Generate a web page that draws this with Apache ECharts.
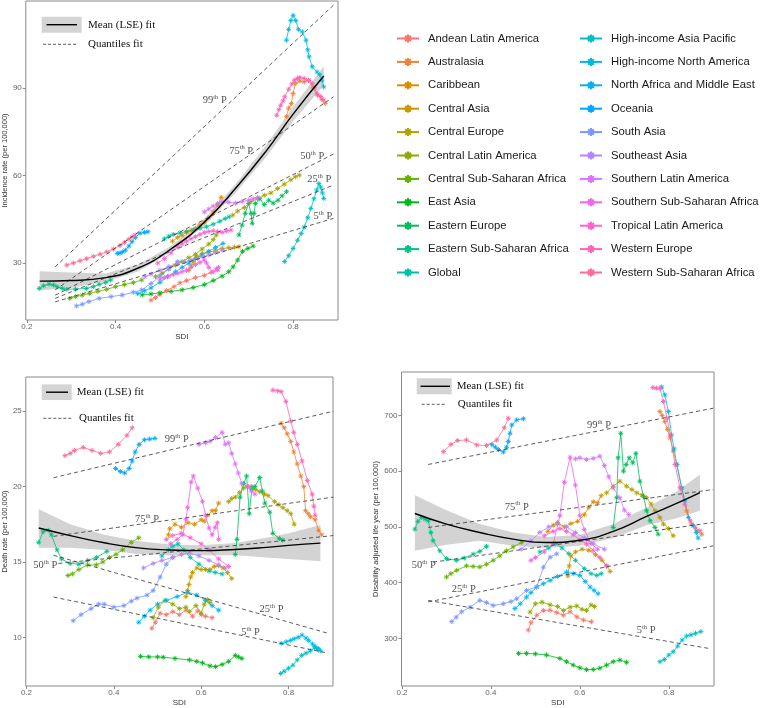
<!DOCTYPE html>
<html><head><meta charset="utf-8">
<script src="https://cdn.jsdelivr.net/npm/echarts@6/dist/echarts.min.js"></script>
<style>html,body{margin:0;padding:0;background:#fff}#c{width:762px;height:708px}</style>
</head><body><div id="c"></div>
<script>
const regions = ['Andean Latin America','Australasia','Caribbean','Central Asia','Central Europe','Central Latin America','Central Sub-Saharan Africa','East Asia','Eastern Europe','Eastern Sub-Saharan Africa','Global','High-income Asia Pacific','High-income North America','North Africa and Middle East','Oceania','South Asia','Southeast Asia','Southern Latin America','Southern Sub-Saharan Africa','Tropical Latin America','Western Europe','Western Sub-Saharan Africa'];

// Incidence rate (per 100,000) vs SDI, one list of [SDI, value] per region
const incidence = [
 [[0.48,17.3],[0.49,18.2],[0.5,19.2],[0.515,20.6],[0.532,21.9],[0.545,23.2],[0.56,24],[0.58,25],[0.6,25.8],[0.615,26.8],[0.63,27.6]],
 [[0.785,80.1],[0.79,83],[0.796,84.6],[0.8,88],[0.805,91.5],[0.815,92.3],[0.825,92],[0.835,92.6],[0.845,90],[0.855,87.5],[0.865,86],[0.872,84.6]],
 [[0.528,37.5],[0.54,38.8],[0.55,39.5],[0.56,40.6],[0.57,41.2],[0.58,41.8],[0.59,43],[0.6,44],[0.61,45.5],[0.62,47.5],[0.63,50],[0.638,52.5]],
 [[0.565,27.5],[0.57,29],[0.575,30.5],[0.583,32.2],[0.595,33.3],[0.61,33.8],[0.625,34.2],[0.64,35],[0.655,35.2],[0.668,35.4],[0.678,35.6]],
 [[0.664,46.4],[0.675,47.8],[0.69,49],[0.705,51],[0.72,52],[0.735,53.2],[0.75,54],[0.765,55.5],[0.78,57],[0.795,58.5],[0.805,59.5],[0.814,60.1]],
 [[0.49,25.3],[0.505,26.5],[0.52,28],[0.535,29.3],[0.55,30.5],[0.565,31.8],[0.58,33],[0.595,34.8],[0.61,36.5],[0.62,38],[0.627,39.6]],
 [[0.297,17.9],[0.31,18.5],[0.325,19],[0.341,19.6],[0.36,20.3],[0.38,21],[0.4,21.9],[0.42,22.6],[0.44,23.3],[0.459,24.2]],
 [[0.46,19.1],[0.48,19.4],[0.5,19.8],[0.525,20.3],[0.55,20.8],[0.575,21.6],[0.6,22.6],[0.62,24],[0.64,25.5],[0.655,27],[0.665,28.7],[0.675,31],[0.686,34],[0.698,35],[0.71,35.8]],
 [[0.678,39.6],[0.685,43],[0.692,47],[0.7,50.4],[0.705,47],[0.708,43.6],[0.712,47],[0.715,50.4],[0.725,52],[0.735,50],[0.745,51.5],[0.755,50.5],[0.766,51.5],[0.775,53],[0.785,54.4]],
 [[0.228,21.3],[0.238,22.2],[0.25,22.8],[0.26,22.5],[0.268,21.9],[0.28,21.3],[0.29,21],[0.31,21.1],[0.334,21.3],[0.35,21.9],[0.363,22.7],[0.378,23.4],[0.389,24.2]],
 [[0.51,38.3],[0.52,39.2],[0.53,39.8],[0.545,40.3],[0.56,40.8],[0.575,41.3],[0.59,41.9],[0.605,42.4],[0.62,43.3],[0.635,44.3],[0.647,45.2],[0.656,45.8]],
 [[0.781,30.5],[0.79,32.5],[0.8,35],[0.81,37.8],[0.818,40.1],[0.825,42.3],[0.833,45.5],[0.84,48.7],[0.847,52],[0.853,55],[0.858,57.2],[0.862,56],[0.866,54],[0.869,52.1]],
 [[0.785,106.3],[0.79,110],[0.795,113],[0.8,114.8],[0.806,113],[0.812,110],[0.821,109.1],[0.829,106.3],[0.833,103],[0.836,100.6],[0.843,97.2],[0.854,95.4],[0.86,94.5],[0.865,92.6],[0.869,90.3]],
 [[0.45,19.5],[0.465,20.5],[0.48,21.5],[0.5,23.4],[0.517,25.3],[0.535,27],[0.55,28.5],[0.565,30],[0.58,31.5],[0.595,32.7],[0.61,34],[0.625,35.3],[0.642,36.7]],
 [[0.404,33.3],[0.41,33.4],[0.416,33.8],[0.422,34.4],[0.43,35.8],[0.437,37.3],[0.445,38.8],[0.455,40.2],[0.465,40.5],[0.473,40.7]],
 [[0.312,15.3],[0.325,15.9],[0.34,16.8],[0.363,17.9],[0.39,18.5],[0.415,19.05],[0.44,20],[0.459,20.8],[0.48,23],[0.5,25.5],[0.52,28],[0.54,30.5]],
 [[0.466,25.3],[0.48,26.2],[0.5,27.5],[0.52,28.8],[0.539,29.9],[0.555,30.5],[0.57,31],[0.585,31.6],[0.598,32.2],[0.61,32.8],[0.625,33.6],[0.642,34.4]],
 [[0.6,47.5],[0.61,48.5],[0.62,49.5],[0.63,50.3],[0.64,51],[0.655,50.8],[0.67,50.5],[0.685,51],[0.7,51.5],[0.71,52],[0.72,52.5]],
 [[0.5,24.5],[0.51,25],[0.52,25.5],[0.53,26],[0.54,26.5],[0.55,27],[0.56,27.5],[0.57,28.5],[0.58,29.5],[0.59,30.2],[0.6,31],[0.605,30],[0.61,28.5],[0.62,27],[0.627,28],[0.632,28.5]],
 [[0.495,30],[0.51,31.5],[0.525,33.5],[0.54,35.5],[0.55,36.5],[0.56,37.5],[0.57,38.3],[0.58,39],[0.59,39.8],[0.6,40.5],[0.61,40.8],[0.62,41],[0.63,40.7],[0.64,40.5],[0.65,41],[0.66,41.3]],
 [[0.763,80.6],[0.768,82.5],[0.772,84],[0.777,85.5],[0.781,86.9],[0.79,89.5],[0.797,91.3],[0.803,92.6],[0.81,93.2],[0.815,93.5],[0.825,93.2],[0.835,92.5],[0.843,91.5],[0.848,90],[0.854,88],[0.862,87],[0.869,85.8]],
 [[0.29,29.3],[0.305,30],[0.32,30.8],[0.335,31.5],[0.35,32.3],[0.365,33],[0.38,33.8],[0.395,34.8],[0.41,36],[0.42,37],[0.43,38.2],[0.437,38.9],[0.444,39.6]]
];

// Death rate (per 100,000) vs SDI
const deathRate = [
 [[0.487,10.6],[0.495,11.0],[0.506,11.6],[0.52,11.5],[0.535,11.7],[0.55,11.5],[0.565,11.8],[0.58,11.4],[0.592,11.75],[0.6,11.5],[0.61,11.4],[0.625,11.3]],
 [[0.783,24.2],[0.79,23.9],[0.797,23.5],[0.805,23.0],[0.812,22.3],[0.82,21.5],[0.828,20.7],[0.835,20.0],[0.839,18.4],[0.845,18.2],[0.85,18.0],[0.861,17.8],[0.869,17.1],[0.876,16.8]],
 [[0.525,16.8],[0.528,17.2],[0.54,17.5],[0.555,17.3],[0.57,17.6],[0.585,17.5],[0.6,17.8],[0.607,17.7],[0.615,18.1],[0.625,18.4],[0.633,18.4],[0.64,18.9]],
 [[0.565,12.7],[0.569,13.1],[0.572,13.5],[0.576,14.0],[0.58,14.3],[0.59,14.6],[0.6,14.5],[0.61,14.5],[0.62,14.5],[0.63,14.7],[0.64,14.75],[0.65,14.6],[0.66,14.3],[0.67,13.9]],
 [[0.663,19.0],[0.67,19.2],[0.678,19.3],[0.688,19.6],[0.697,19.9],[0.705,20.0],[0.715,20.0],[0.725,19.8],[0.734,19.65],[0.745,19.5],[0.753,19.4],[0.768,19.0],[0.778,18.8],[0.787,18.6],[0.797,18.4],[0.805,18.2],[0.813,17.5]],
 [[0.49,11.3],[0.502,12.0],[0.517,12.45],[0.535,12.2],[0.55,11.9],[0.565,12.0],[0.573,11.7],[0.588,12.1],[0.6,11.6],[0.607,12.2],[0.614,12.5],[0.62,12.3]],
 [[0.295,14.1],[0.305,14.2],[0.32,14.5],[0.34,14.8],[0.36,14.8],[0.375,15.0],[0.39,15.3],[0.405,15.5],[0.42,15.8],[0.44,16.3],[0.457,16.6]],
 [[0.461,8.74],[0.48,8.7],[0.5,8.7],[0.513,8.68],[0.54,8.6],[0.573,8.5],[0.59,8.4],[0.603,8.3],[0.62,8.1],[0.633,8.05],[0.648,8.2],[0.663,8.4],[0.678,8.8],[0.685,8.7],[0.693,8.6]],
 [[0.678,15.5],[0.682,16.5],[0.689,19.3],[0.697,20.2],[0.704,20.7],[0.71,18.2],[0.716,19.8],[0.723,20.0],[0.734,20.6],[0.74,19.7],[0.746,18.9],[0.757,18.3],[0.764,16.9],[0.779,16.55],[0.787,16.45]],
 [[0.228,16.3],[0.238,17.0],[0.25,17.1],[0.257,16.8],[0.27,15.8],[0.28,15.2],[0.3,14.9],[0.32,14.85],[0.34,15.1],[0.36,15.3],[0.384,15.7]],
 [[0.51,15.4],[0.525,15.8],[0.535,16.05],[0.547,16.2],[0.56,15.8],[0.575,15.3],[0.595,14.85],[0.618,14.4],[0.632,14.3],[0.648,14.2]],
 [[0.782,7.6],[0.79,7.75],[0.8,7.95],[0.81,8.15],[0.82,8.5],[0.83,8.8],[0.84,8.95],[0.85,9.1],[0.86,9.3],[0.868,9.2]],
 [[0.783,9.6],[0.795,9.7],[0.805,9.8],[0.813,9.9],[0.822,10.0],[0.831,10.15],[0.84,9.95],[0.846,9.8],[0.855,9.55],[0.861,9.4],[0.868,9.25],[0.873,9.1]],
 [[0.457,11.0],[0.47,11.4],[0.483,11.8],[0.5,12.2],[0.52,12.45],[0.545,12.7],[0.569,13.0],[0.59,12.8],[0.61,12.45],[0.625,12.1],[0.64,11.8]],
 [[0.404,21.2],[0.415,21.0],[0.425,20.9],[0.435,21.2],[0.442,21.7],[0.449,22.3],[0.458,22.8],[0.47,23.1],[0.482,23.15],[0.494,23.2]],
 [[0.307,11.1],[0.325,11.5],[0.348,11.9],[0.365,12.2],[0.378,12.2],[0.4,12.0],[0.423,12.1],[0.44,12.4],[0.453,12.6],[0.476,12.8],[0.49,13.1],[0.506,14.0],[0.52,14.85],[0.535,15.3]],
 [[0.468,14.6],[0.49,14.9],[0.51,15.1],[0.535,15.3],[0.555,15.5],[0.573,15.6],[0.595,15.4],[0.618,15.1],[0.64,14.8],[0.655,14.6]],
 [[0.595,22.8],[0.61,22.9],[0.62,23.0],[0.633,23.25],[0.648,23.6],[0.655,22.8],[0.663,22.9],[0.67,22.2],[0.678,21.5],[0.685,20.9],[0.693,20.2],[0.708,20.0],[0.715,19.7],[0.723,19.5]],
 [[0.53,16.2],[0.545,16.5],[0.558,16.8],[0.565,17.8],[0.569,18.6],[0.577,20.3],[0.582,20.7],[0.592,19.9],[0.603,19.0],[0.61,18.1],[0.618,17.25],[0.625,16.8],[0.632,17.3],[0.637,17.6],[0.64,16.5]],
 [[0.52,16.5],[0.535,16.75],[0.554,16.9],[0.575,16.6],[0.6,16.2],[0.618,15.8],[0.64,15.2],[0.663,14.7]],
 [[0.764,26.4],[0.775,26.35],[0.783,26.3],[0.794,25.65],[0.805,24.35],[0.812,23.6],[0.82,22.8],[0.831,21.7],[0.843,20.4],[0.854,19.5],[0.858,18.7],[0.861,18.1]],
 [[0.288,22.05],[0.3,22.2],[0.31,22.4],[0.33,22.6],[0.35,22.4],[0.37,22.2],[0.39,22.3],[0.41,22.8],[0.43,23.4],[0.442,23.9]]
];

// Disability adjusted life year (per 100,000) vs SDI
const daly = [
 [[0.484,314.8],[0.49,328],[0.503,341.5],[0.518,350],[0.533,350.5],[0.548,346],[0.563,341.5],[0.578,347.5],[0.593,338.6],[0.608,332.7],[0.626,329.7]],
 [[0.78,707],[0.785,700],[0.791,689],[0.797,675],[0.803,659.5],[0.81,636],[0.818,612],[0.829,570],[0.84,528.8],[0.851,505],[0.863,493],[0.874,487]],
 [[0.528,492],[0.54,503],[0.55,508],[0.565,500],[0.58,506],[0.595,510],[0.61,522],[0.62,535],[0.63,545],[0.64,543],[0.648,556]],
 [[0.573,412],[0.576,430],[0.58,448],[0.59,455],[0.605,460],[0.62,458],[0.635,450],[0.65,440],[0.66,430],[0.668,420]],
 [[0.66,561],[0.675,573],[0.69,582],[0.705,573],[0.717,567],[0.728,561],[0.74,557],[0.75,552.5],[0.76,541],[0.769,528.8],[0.78,517],[0.788,505],[0.799,497],[0.81,484]],
 [[0.488,347],[0.5,362],[0.515,365],[0.533,360],[0.55,357],[0.563,350],[0.578,356],[0.593,358],[0.605,352],[0.615,350],[0.625,360],[0.633,357]],
 [[0.3,410],[0.31,416],[0.323,422],[0.345,430],[0.36,429],[0.375,428],[0.39,433],[0.405,440],[0.42,448],[0.435,457],[0.45,464],[0.469,472]],
 [[0.462,273],[0.48,273],[0.5,272],[0.525,270],[0.555,264],[0.57,258],[0.585,252],[0.6,247],[0.615,243.6],[0.63,244],[0.645,246.5],[0.66,252],[0.675,258],[0.69,261],[0.705,257]],
 [[0.675,499],[0.683,552.5],[0.686,624],[0.692,668],[0.698,600],[0.704,612],[0.711,624],[0.719,615],[0.726,632],[0.735,582],[0.743,555],[0.75,529],[0.758,511],[0.769,499],[0.776,487]],
 [[0.229,496],[0.236,510],[0.244,517],[0.252,514],[0.259,511],[0.265,490],[0.27,475],[0.285,457],[0.3,443],[0.323,440],[0.34,444],[0.36,451],[0.375,456],[0.39,465]],
 [[0.51,455],[0.53,462],[0.545,470],[0.56,462],[0.575,452],[0.59,440],[0.61,425],[0.625,416],[0.638,413],[0.648,416]],
 [[0.78,258],[0.79,262],[0.8,270],[0.81,276],[0.82,286],[0.83,297],[0.84,304],[0.85,306],[0.86,309],[0.872,312]],
 [[0.784,751],[0.791,737],[0.799,707],[0.806,665],[0.812,640],[0.818,612],[0.829,570],[0.836,547],[0.844,517],[0.855,502],[0.862,490],[0.866,480]],
 [[0.454,353.5],[0.466,362],[0.48,374],[0.49,382],[0.503,392],[0.518,398],[0.533,404],[0.55,411],[0.57,418.8],[0.585,416],[0.6,413],[0.612,402],[0.623,392],[0.632,386],[0.641,380]],
 [[0.402,647.6],[0.41,643],[0.417,638.7],[0.428,634.5],[0.435,643],[0.439,653.5],[0.443,668],[0.447,683],[0.458,692],[0.473,694]],
 [[0.312,330],[0.322,338],[0.334,347.5],[0.353,356],[0.375,368],[0.39,364],[0.405,359],[0.428,362],[0.445,366],[0.458,371],[0.48,386],[0.503,392],[0.518,427.7],[0.533,445.6],[0.548,451.5]],
 [[0.468,460],[0.49,475],[0.51,490],[0.53,500],[0.55,505],[0.57,500],[0.59,490],[0.61,480],[0.63,470],[0.655,460]],
 [[0.59,622],[0.6,624],[0.615,621],[0.63,623],[0.645,627],[0.655,610],[0.665,590],[0.675,570],[0.69,552],[0.7,530],[0.71,522]],
 [[0.49,440],[0.5,445],[0.52,455],[0.54,470],[0.555,520],[0.565,580],[0.578,625],[0.59,575],[0.6,520],[0.61,495],[0.625,470],[0.64,460]],
 [[0.52,484],[0.54,492],[0.555,497],[0.57,492],[0.585,486],[0.6,477],[0.615,469],[0.63,458],[0.645,445],[0.66,430]],
 [[0.764,750],[0.772,749],[0.78,748.6],[0.788,725],[0.796,695],[0.803,665],[0.814,612],[0.825,570],[0.836,540.6],[0.848,511],[0.859,499],[0.87,493]],
 [[0.293,635],[0.31,648],[0.325,655],[0.345,656],[0.368,647],[0.39,646],[0.413,656],[0.43,678],[0.439,695]]
];

// Mean (LSE) fits and their confidence bands
const incFit = [[0.229,23.8],[0.3,24.0],[0.378,25.0],[0.451,28.3],[0.525,34.8],[0.6,44.0],[0.67,55.5],[0.74,68.5],[0.8,81],[0.869,94]];
const incBandUp = [[0.229,27.2],[0.3,26.8],[0.378,26.4],[0.451,29.5],[0.525,35.8],[0.6,45.2],[0.67,57],[0.74,70.5],[0.8,83.5],[0.869,97.3]];
const incBandLo = [[0.229,20.6],[0.3,21.5],[0.378,23.6],[0.451,27.1],[0.525,33.8],[0.6,42.8],[0.67,54],[0.74,66.5],[0.8,78.5],[0.869,90.8]];
const deathFit = [[0.228,17.25],[0.3,16.75],[0.378,16.27],[0.45,15.95],[0.528,15.79],[0.6,15.75],[0.678,15.83],[0.75,15.97],[0.8,16.1],[0.873,16.25]];
const deathBandUp = [[0.228,18.5],[0.3,17.5],[0.378,16.8],[0.45,16.4],[0.528,16.15],[0.6,16.1],[0.678,16.25],[0.75,16.6],[0.8,16.9],[0.873,17.45]];
const deathBandLo = [[0.228,15.95],[0.3,15.95],[0.378,15.8],[0.45,15.55],[0.528,15.45],[0.6,15.45],[0.678,15.45],[0.75,15.3],[0.8,15.2],[0.873,15.05]];
const dalyFit = [[0.229,524],[0.3,505],[0.375,490],[0.45,478],[0.525,472],[0.6,476],[0.675,492],[0.75,518.7],[0.82,543],[0.87,561.5]];
const dalyBandUp = [[0.229,557],[0.3,530],[0.375,505],[0.45,490],[0.525,482],[0.6,486],[0.675,505],[0.75,535],[0.82,565],[0.87,594]];
const dalyBandLo = [[0.229,457],[0.3,468],[0.375,475],[0.45,466],[0.525,462],[0.6,466],[0.675,480],[0.75,503],[0.82,516],[0.87,529]];

// Quantile regression lines (99th, 75th, 50th, 25th, 5th), end points
const quantileNames = ['99','75','50','25','5'];
const incQuantiles = [[[0.264,28.7],[0.891,118.3]],[[0.264,20.8],[0.891,86.9]],[[0.264,19.0],[0.891,67.3]],[[0.264,17.9],[0.891,56.7]],[[0.264,16.7],[0.891,45.3]]];
const deathQuantiles = [[[0.262,20.59],[0.9025,25.0]],[[0.262,16.7],[0.9025,19.3]],[[0.273,14.9],[0.9025,16.75]],[[0.262,15.44],[0.891,10.26]],[[0.262,12.67],[0.891,8.95]]];
const dalyQuantiles = [[[0.259,612],[0.9,713]],[[0.259,499],[0.9,567]],[[0.27,436.7],[0.9,508]],[[0.259,365.4],[0.9,466]],[[0.259,368],[0.889,282]]];
// where the quantile labels sit (data coordinates)
const incQLabelAt = [[0.6235,85.8],[0.683,68.6],[0.843,66.8],[0.859,58.8],[0.867,46.1]];
const deathQLabelAt = [[0.544,23.17],[0.476,17.88],[0.243,14.8],[0.761,11.88],[0.713,10.39]];
const dalyQLabelAt = [[0.643,683.2],[0.458,537],[0.249,432.5],[0.339,389],[0.749,316]];

const sdiTicks = [0.2,0.4,0.6,0.8];
const incTicks = [30,60,90];
const deathTicks = [10,15,20,25];
const dalyTicks = [300,400,500,600,700];

// ggplot-like hue palette
function hcl(h, c, l) {
  const r2 = Math.PI / 180;
  const U = c * Math.cos(h * r2), V = c * Math.sin(h * r2);
  const Y = l > 8 ? Math.pow((l + 16) / 116, 3) : l / 903.3;
  const Xn = 0.95047, Yn = 1.0, Zn = 1.08883;
  const den = Xn + 15 * Yn + 3 * Zn;
  const un = 4 * Xn / den, vn = 9 * Yn / den;
  const u = U / (13 * l) + un, v = V / (13 * l) + vn;
  const X = 9 * Y * u / (4 * v);
  const Z = -X / 3 - 5 * Y + 3 * Y / v;
  const lin = [
    3.240479 * X - 1.537150 * Y - 0.498535 * Z,
    -0.969256 * X + 1.875992 * Y + 0.041556 * Z,
    0.055648 * X - 0.204043 * Y + 1.057311 * Z];
  return '#' + lin.map(t => {
    let g = t <= 0.0031308 ? 12.92 * t : 1.055 * Math.pow(t, 1 / 2.4) - 0.055;
    g = Math.max(0, Math.min(1, g));
    return Math.round(g * 255).toString(16).padStart(2, '0');
  }).join('');
}
const colors = regions.map((_, i) => hcl(15 + i * 360 / regions.length, 100, 65));

const STAR = 'path://M5 0L5 10M0 5L10 5M1.5 1.5L8.5 8.5M1.5 8.5L8.5 1.5';
const SANS = 'Liberation Sans, Arial, sans-serif';
const SERIF = 'Liberation Serif, Times New Roman, serif';
const GRAY = '#8a8a8a';

const panels = [
  {data: incidence, fit: incFit, up: incBandUp, lo: incBandLo, q: incQuantiles, ql: incQLabelAt, yTicks: incTicks,
   yName: 'Incidence rate (per 100,000)', grid: {left: 18, top: 1, width: 320, height: 319}, x: [0.1978, 0.9011], y: [10.5, 119.7], yGap: 9},
  {data: deathRate, fit: deathFit, up: deathBandUp, lo: deathBandLo, q: deathQuantiles, ql: deathQLabelAt, yTicks: deathTicks,
   yName: 'Death rate (per 100,000)', grid: {left: 20, top: 377, width: 313, height: 313}, x: [0.1984, 0.9018], y: [6.77, 27.27], yGap: 10},
  {data: daly, fit: dalyFit, up: dalyBandUp, lo: dalyBandLo, q: dalyQuantiles, ql: dalyQLabelAt, yTicks: dalyTicks,
   yName: 'Disability adjusted life year (per 100,000)', grid: {left: 401.5, top: 372, width: 312.5, height: 316}, x: [0.1989, 0.9016], y: [214.4, 778], yGap: 13}
];

const grids = [], xAxes = [], yAxes = [], series = [];
panels.forEach((p, k) => {
  grids.push(Object.assign({show: true, borderColor: GRAY, borderWidth: 1, backgroundColor: 'transparent'}, p.grid));
  xAxes.push({gridIndex: k, type: 'value', min: p.x[0], max: p.x[1], name: 'SDI', nameLocation: 'middle', nameGap: 13,
    nameTextStyle: {fontSize: 8, color: '#333', fontFamily: SANS},
    axisLine: {show: false}, splitLine: {show: false},
    axisTick: {show: true, length: 3, lineStyle: {color: GRAY}, customValues: sdiTicks},
    axisLabel: {fontSize: 8, color: '#666', margin: 3, fontFamily: SANS, customValues: sdiTicks, formatter: v => v.toFixed(1)}});
  yAxes.push({gridIndex: k, type: 'value', min: p.y[0], max: p.y[1], name: p.yName, nameLocation: 'middle', nameGap: p.yGap,
    nameTextStyle: {fontSize: 7.5, color: '#333', fontFamily: SANS},
    axisLine: {show: false}, splitLine: {show: false},
    axisTick: {show: true, length: 3, lineStyle: {color: GRAY}, customValues: p.yTicks},
    axisLabel: {fontSize: 8, color: '#666', margin: 4, fontFamily: SANS, customValues: p.yTicks}});
  // confidence band
  series.push({type: 'custom', xAxisIndex: k, yAxisIndex: k, z: 1, silent: true, data: [[p.fit[0][0], p.fit[0][1]]],
    renderItem: (params, api) => {
      const pts = p.up.map(d => api.coord(d)).concat(p.lo.slice().reverse().map(d => api.coord(d)));
      return {type: 'polygon', shape: {points: pts}, style: {fill: 'rgba(150,150,150,0.42)'}};
    }});
  // region trajectories
  p.data.forEach((d, i) => {
    series.push({type: 'line', name: regions[i], xAxisIndex: k, yAxisIndex: k, z: 2, data: d,
      symbol: STAR, symbolSize: 5, symbolKeepAspect: true, showSymbol: true,
      lineStyle: {width: 0.8, color: colors[i]},
      itemStyle: {color: colors[i], borderColor: colors[i], borderWidth: 0.9},
      emphasis: {disabled: true}, animation: false});
  });
  // quantile lines
  p.q.forEach((d) => {
    series.push({type: 'line', xAxisIndex: k, yAxisIndex: k, z: 3, data: d, symbol: 'none', silent: true,
      lineStyle: {type: [4, 3], width: 0.8, color: '#333'}, emphasis: {disabled: true}});
  });
  // quantile labels
  series.push({type: 'scatter', xAxisIndex: k, yAxisIndex: k, z: 5, symbolSize: 0, silent: true,
    data: p.ql.map((d, j) => ({value: d, name: quantileNames[j]})),
    label: {show: true, position: 'inside', formatter: prm => '{a|' + prm.name + '}{s|th}{a| P}',
      rich: {a: {fontSize: 10.5, fontFamily: SERIF, color: '#222', lineHeight: 12, verticalAlign: 'bottom'},
             s: {fontSize: 6.5, fontFamily: SERIF, color: '#222', lineHeight: 12, verticalAlign: 'top', padding: [0, 0, 5, 0]}}}});
  // mean fit
  series.push({type: 'line', xAxisIndex: k, yAxisIndex: k, z: 4, data: p.fit, smooth: 0.5, symbol: 'none', silent: true,
    lineStyle: {width: 1.4, color: '#000'}, emphasis: {disabled: true}});
});

function panelLegend(x0, yMean, yQuant, boxW, boxH, textX, textXQ, lineX0, lineX1, qX0, qX1, qText) {
  return [
    {type: 'rect', shape: {x: x0, y: yMean - boxH / 2, width: boxW, height: boxH}, style: {fill: '#d4d4d4'}},
    {type: 'line', shape: {x1: lineX0, y1: yMean, x2: lineX1, y2: yMean}, style: {stroke: '#000', lineWidth: 1.4}},
    {type: 'text', x: textX, y: yMean, style: {text: 'Mean (LSE) fit', font: '11px ' + SERIF, fill: '#111', textVerticalAlign: 'middle'}},
    {type: 'line', shape: {x1: qX0, y1: yQuant, x2: qX1, y2: yQuant}, style: {stroke: '#333', lineWidth: 0.8, lineDash: [3, 2]}},
    {type: 'text', x: textXQ, y: yQuant, style: {text: qText, font: '11px ' + SERIF, fill: '#111', textVerticalAlign: 'middle'}}
  ];
}
const graphics = [].concat(
  panelLegend(41.7, 24.7, 44.3, 40, 16, 88, 88, 46.5, 77, 43, 77, 'Quantiles fit'),
  panelLegend(41.7, 392.2, 418.3, 30, 15.7, 76.7, 79, 46, 68, 43.3, 71.7, 'Quantiles fit'),
  panelLegend(416.7, 386.3, 404.3, 35, 16, 456.7, 457.7, 420.5, 450, 421.7, 446.7, 'Quantiles fit')
);

const legendCommon = {orient: 'vertical', top: 33, itemWidth: 22, itemHeight: 10, itemGap: 12.4, padding: 0,
  textStyle: {fontSize: 11.3, fontFamily: SANS, color: '#1a1a1a', padding: [0, 0, 0, 4]}, selectedMode: false};
const chart = echarts.init(document.getElementById('c'), null, {renderer: 'canvas'});
chart.setOption({
  animation: false,
  backgroundColor: '#fff',
  grid: grids, xAxis: xAxes, yAxis: yAxes,
  legend: [
    Object.assign({left: 396, data: regions.slice(0, 11)}, legendCommon),
    Object.assign({left: 579, data: regions.slice(11)}, legendCommon)
  ],
  graphic: graphics,
  series: series
});
</script></body></html>
